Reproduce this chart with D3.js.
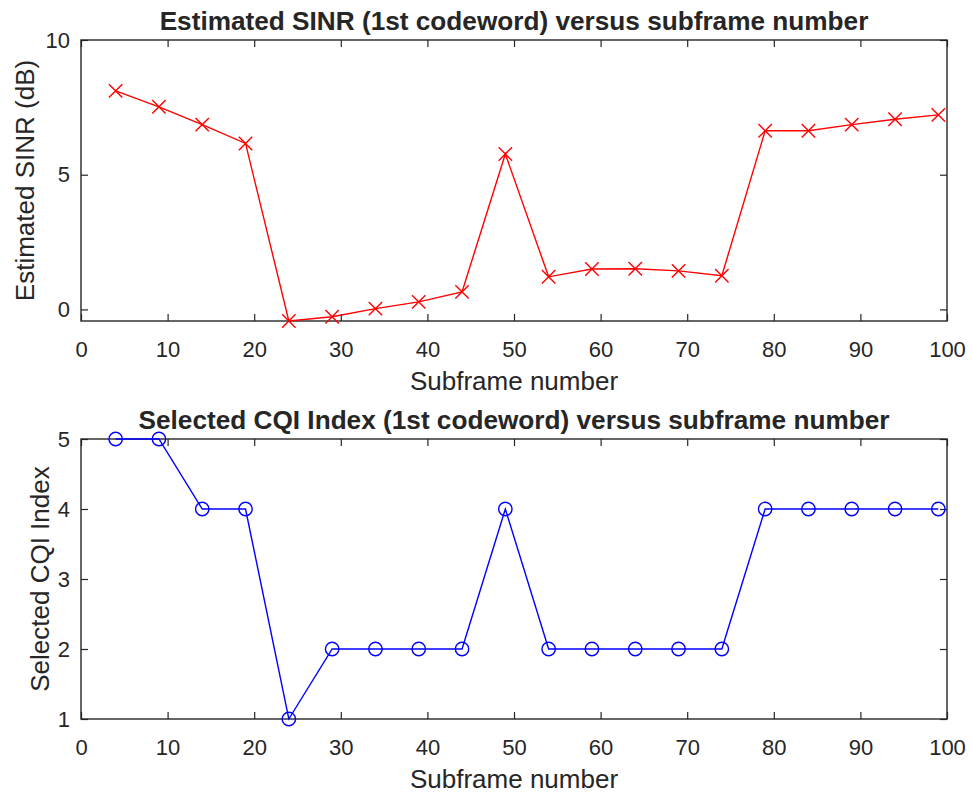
<!DOCTYPE html>
<html>
<head>
<meta charset="utf-8">
<script src="https://cdn.jsdelivr.net/npm/d3@7"></script>
<style>
  html, body { margin: 0; padding: 0; background: #fff; }
  svg { display: block; }
  text { font-family: "Liberation Sans", Arial, Helvetica, sans-serif; fill: #262626; }
</style>
</head>
<body>
<svg id="chart" width="972" height="795"></svg>
<script>
// ---- data ----
const subframes = [4, 9, 14, 19, 24, 29, 34, 39, 44, 49, 54, 59, 64, 69, 74, 79, 84, 89, 94, 99];
const sinrValues = [8.11, 7.52, 6.86, 6.16, -0.43, -0.27, 0.03, 0.28, 0.65, 5.77, 1.21, 1.50, 1.51, 1.43, 1.25, 6.63, 6.63, 6.86, 7.06, 7.22];
const cqiValues = [5, 5, 4, 4, 1, 2, 2, 2, 2, 4, 2, 2, 2, 2, 2, 4, 4, 4, 4, 4];
const xTicks = [0, 10, 20, 30, 40, 50, 60, 70, 80, 90, 100];
const sinrTicks = [0, 5, 10];
const cqiTicks = [1, 2, 3, 4, 5];
const titles = ["Estimated SINR (1st codeword) versus subframe number",
                "Selected CQI Index (1st codeword) versus subframe number"];
const yLabels = ["Estimated SINR (dB)", "Selected CQI Index"];
const xLabel = "Subframe number";

const svg = d3.select("#chart");
const axisColor = "#262626";
const tickLen = 7;
const tickFont = 22;
const labelFont = 26;
const titleFont = 26.2;

function panel(cfg) {
  const { left, right, top, bottom, xDomain, yDomain, xT, yT, values, color, marker, title, yLabel, yLabelX } = cfg;
  const x = d3.scaleLinear().domain(xDomain).range([left, right]);
  const y = d3.scaleLinear().domain(yDomain).range([bottom, top]);
  const g = svg.append("g");

  // axes
  const ax = g.append("g").attr("transform", `translate(0,${bottom})`)
    .call(d3.axisBottom(x).tickValues(xT).tickSize(-tickLen).tickPadding(20).tickFormat(d3.format("d")));
  const axT = g.append("g").attr("transform", `translate(0,${top})`)
    .call(d3.axisTop(x).tickValues(xT).tickSize(-tickLen).tickFormat(""));
  const ay = g.append("g").attr("transform", `translate(${left},0)`)
    .call(d3.axisLeft(y).tickValues(yT).tickSize(-tickLen).tickPadding(11).tickFormat(d3.format("d")));
  const ayR = g.append("g").attr("transform", `translate(${right},0)`)
    .call(d3.axisRight(y).tickValues(yT).tickSize(-tickLen).tickFormat(""));
  [ax, axT, ay, ayR].forEach(a => {
    a.select(".domain").remove();
    a.selectAll(".tick line").attr("stroke", axisColor).attr("stroke-width", 1.2);
    a.selectAll(".tick text").attr("font-size", tickFont).attr("fill", axisColor)
      .style("font-family", '"Liberation Sans", Arial, Helvetica, sans-serif');
  });
  g.append("rect").attr("x", left).attr("y", top)
    .attr("width", right - left).attr("height", bottom - top)
    .attr("fill", "none").attr("stroke", axisColor).attr("stroke-width", 1.4);

  // line
  const data = subframes.map((s, i) => [s, values[i]]);
  g.append("path").datum(data)
    .attr("d", d3.line().x(d => x(d[0])).y(d => y(d[1])))
    .attr("fill", "none").attr("stroke", color).attr("stroke-width", 1.4);

  // markers
  const r = 6.7;
  if (marker === "x") {
    const mk = g.append("g");
    data.forEach(d => {
      const cx = x(d[0]), cy = y(d[1]);
      mk.append("path")
        .attr("d", `M${cx - r},${cy - r}L${cx + r},${cy + r}M${cx - r},${cy + r}L${cx + r},${cy - r}`)
        .attr("stroke", color).attr("stroke-width", 1.4).attr("fill", "none");
    });
  } else {
    g.append("g").selectAll("circle").data(data).join("circle")
      .attr("cx", d => x(d[0])).attr("cy", d => y(d[1])).attr("r", r)
      .attr("fill", "none").attr("stroke", color).attr("stroke-width", 1.4);
  }

  // texts
  g.append("text").attr("x", (left + right) / 2).attr("y", top - 10)
    .attr("text-anchor", "middle").attr("font-size", titleFont).attr("font-weight", "bold")
    .attr("fill", "#000").text(title);
  g.append("text").attr("x", (left + right) / 2).attr("y", bottom + 69)
    .attr("text-anchor", "middle").attr("font-size", labelFont).text(xLabel);
  g.append("text")
    .attr("transform", `translate(${yLabelX},${(top + bottom) / 2}) rotate(-90)`)
    .attr("text-anchor", "middle").attr("font-size", labelFont).text(yLabel);
}

panel({
  left: 81, right: 947, top: 40, bottom: 321,
  xDomain: [0, 100], yDomain: [d3.min(sinrValues), 10],
  xT: xTicks, yT: sinrTicks, values: sinrValues, color: "#ff0000", marker: "x",
  title: titles[0], yLabel: yLabels[0], yLabelX: 34
});
panel({
  left: 81, right: 947, top: 439, bottom: 719,
  xDomain: [0, 100], yDomain: [1, 5],
  xT: xTicks, yT: cqiTicks, values: cqiValues, color: "#0000ff", marker: "o",
  title: titles[1], yLabel: yLabels[1], yLabelX: 49
});
</script>
</body>
</html>
